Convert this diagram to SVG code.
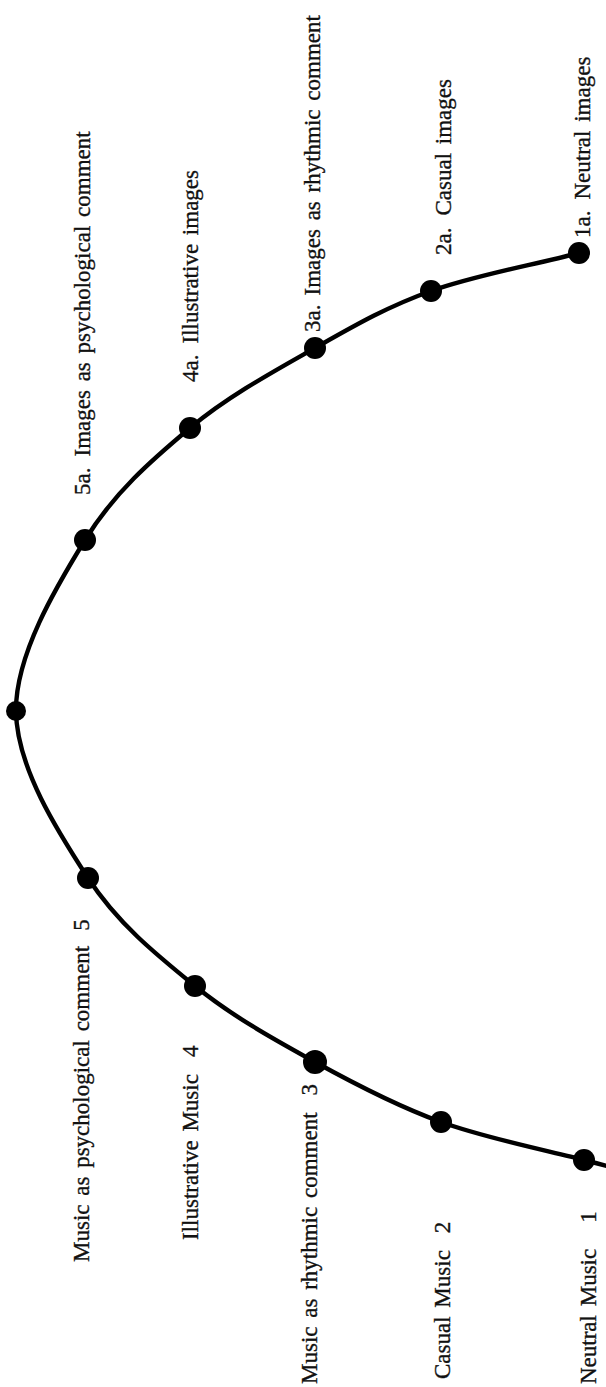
<svg xmlns="http://www.w3.org/2000/svg" width="606" height="1387" viewBox="0 0 606 1387">
<style>
.lbl{font-family:"Liberation Serif","Times New Roman",serif;font-size:23px;fill:#111;stroke:#111;stroke-width:0.35;word-spacing:3px}
.dot{fill:#000}
.curve{fill:none;stroke:#000;stroke-width:4.4;stroke-linecap:round}
</style>
<rect width="606" height="1387" fill="#fff"/>
<g id="connectors">
<path class="curve" d="M579,253 C529.7,265.7 475,275.2 431,291 C387,306.8 355.2,325.2 315,348 C274.8,370.8 228.3,396 190,428 C151.7,460 114,492.8 85,540 C56,587.2 15.5,654.7 16,711 C16.5,767.3 58.2,832.2 88,878 C117.8,923.8 157.2,955.3 195,986 C232.8,1016.7 274,1039.3 315,1062 C356,1084.7 396.2,1105.7 441,1122 C485.8,1138.3 550.8,1151.3 584,1160 C617.2,1168.7 621.3,1169.3 640,1174"/>
</g>
<g id="node-1a"><circle class="dot" cx="579" cy="253" r="11"/><text class="lbl" transform="translate(590,238) rotate(-90)">1a.<tspan dx="11">Neutral images</tspan></text></g>
<g id="node-2a"><circle class="dot" cx="431" cy="291" r="11"/><text class="lbl" transform="translate(451,255) rotate(-90)">2a.<tspan dx="12">Casual images</tspan></text></g>
<g id="node-3a"><circle class="dot" cx="315" cy="348" r="11"/><text class="lbl" transform="translate(320,332) rotate(-90)">3a.<tspan dx="9">Images as rhythmic comment</tspan></text></g>
<g id="node-4a"><circle class="dot" cx="190" cy="428" r="11"/><text class="lbl" transform="translate(198,382) rotate(-90)">4a.<tspan dx="11">Illustrative images</tspan></text></g>
<g id="node-5a"><circle class="dot" cx="85" cy="540" r="11"/><text class="lbl" transform="translate(90,495) rotate(-90)">5a.<tspan dx="11">Images as psychological comment</tspan></text></g>
<g id="node-apex"><circle class="dot" cx="16" cy="711" r="10"/></g>
<g id="node-5"><circle class="dot" cx="88" cy="878" r="11"/><text class="lbl" transform="translate(89,1262) rotate(-90)">Music as psychological comment<tspan dx="15">5</tspan></text></g>
<g id="node-4"><circle class="dot" cx="195" cy="986" r="11"/><text class="lbl" transform="translate(198,1240) rotate(-90)">Illustrative Music<tspan dx="17">4</tspan></text></g>
<g id="node-3"><circle class="dot" cx="315" cy="1062" r="12"/><text class="lbl" transform="translate(317,1384) rotate(-90)">Music as rhythmic comment<tspan dx="17">3</tspan></text></g>
<g id="node-2"><circle class="dot" cx="441" cy="1122" r="11"/><text class="lbl" transform="translate(450,1379) rotate(-90)">Casual Music<tspan dx="17">2</tspan></text></g>
<g id="node-1"><circle class="dot" cx="584" cy="1160" r="11"/><text class="lbl" transform="translate(596,1384) rotate(-90)">Neutral Music<tspan dx="26">1</tspan></text></g>
</svg>
